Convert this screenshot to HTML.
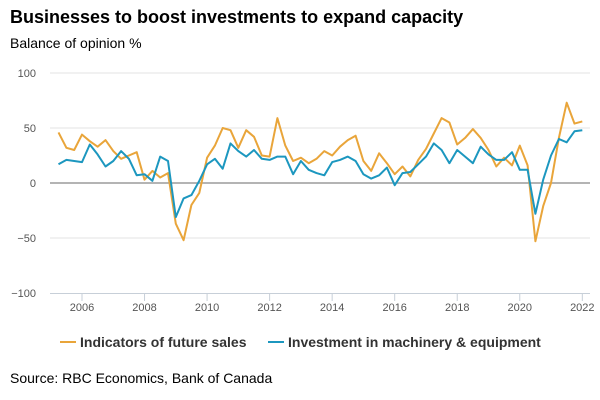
<!DOCTYPE html>
<html><head><meta charset="utf-8"><style>
body{margin:0;background:#fff;font-family:"Liberation Sans",sans-serif;}
#wrap{position:relative;width:600px;height:400px;overflow:hidden;}
.t{position:absolute;white-space:nowrap;color:#000;}
</style></head><body>
<div id="wrap">
<div class="t" style="left:10px;top:7px;font-size:18px;font-weight:bold;">Businesses to boost investments to expand capacity</div>
<div class="t" style="left:10px;top:35px;font-size:14px;">Balance of opinion %</div>
<svg id="plot" width="600" height="400" style="position:absolute;left:0;top:0;font-family:'Liberation Sans',sans-serif;"></svg>
<div class="t" style="left:10px;top:370px;font-size:14px;">Source: RBC Economics, Bank of Canada</div>
</div>
<script>
const yTicks=[100,50,0,-50,-100];
const xTickYears=[2006,2008,2010,2012,2014,2016,2018,2020,2022];
const startYear=2005.25;
const futureSales=[46,32,30,44,38,33,39,29,22,25,28,3,11,5,9,-37,-52,-20,-9,23,34,50,48,
32,48,42,25,24,59,34,20,23,18,22,29,25,33,39,43,20,11,27,18,8,15,6,
21,31,45,59,55,35,41,49,41,30,15,23,16,34,16,-53,-21,0,41,73,54,56];
const machinery=[17,21,20,19,35,26,15,20,29,22,7,8,2,24,20,-31,-14,-11,2,17,22,13,36,
29,24,30,22,21,24,24,8,20,12,9,7,19,21,24,20,8,4,7,14,-2,9,10,
17,24,36,30,18,30,24,18,33,26,21,21,28,12,12,-28,3,25,40,37,47,48];
const seriesNames=["Indicators of future sales","Investment in machinery & equipment"];
const colors=["#E9A53A","#1C97BF"];
const NS="http://www.w3.org/2000/svg";
const svg=document.getElementById('plot');
const x=yr=>82+(yr-2006)*31.27;
const y=v=>183-v*1.1;
function mk(tag,attrs){const e=document.createElementNS(NS,tag);for(const k in attrs)e.setAttribute(k,attrs[k]);svg.appendChild(e);return e;}
yTicks.forEach(v=>{
  if(v!==-100&&v!==0){const g=mk('line',{x1:50,x2:590,y1:y(v),y2:y(v),stroke:'#e3e3e3','stroke-width':1});
  
  }
  const t=mk('text',{x:36,y:y(v)+4,'text-anchor':'end','font-size':11,fill:'#555'});
  t.textContent=v===-100?'\u2212100':(v<0?'\u2212'+(-v):v);
  
  
});
const ax=mk('line',{x1:50,x2:590,y1:y(-100)+0.5,y2:y(-100)+0.5,stroke:'#c7cfd8','stroke-width':1});


const z=mk('line',{x1:50,x2:590,y1:y(0),y2:y(0),stroke:'#888','stroke-width':1.2});


xTickYears.forEach(yr=>{
  const tk=mk('line',{x1:x(yr),x2:x(yr),y1:y(-100),y2:y(-100)+8,stroke:'#c7cfd8','stroke-width':1});
  
  
  const t=mk('text',{x:x(yr),y:311,'text-anchor':'middle','font-size':11,fill:'#555'});
  t.textContent=yr;
  
  
});
[futureSales,machinery].forEach((s,si)=>{
  const pts=s.map((v,i)=>x(startYear+i/4).toFixed(1)+','+y(v).toFixed(1)).join(' ');
  const p=mk('polyline',{points:pts,fill:'none',stroke:colors[si],'stroke-width':2,'stroke-linejoin':'round'});
  
  
});
const legX=[60,268];
seriesNames.forEach((n,i)=>{
  const l=mk('line',{x1:legX[i],x2:legX[i]+16,y1:342,y2:342,stroke:colors[i],'stroke-width':2});
  
  
  const t=mk('text',{x:legX[i]+20,y:347,'font-size':14,'font-weight':'bold',fill:'#333'});
  t.textContent=n;
  
  
});
</script>
</body></html>
